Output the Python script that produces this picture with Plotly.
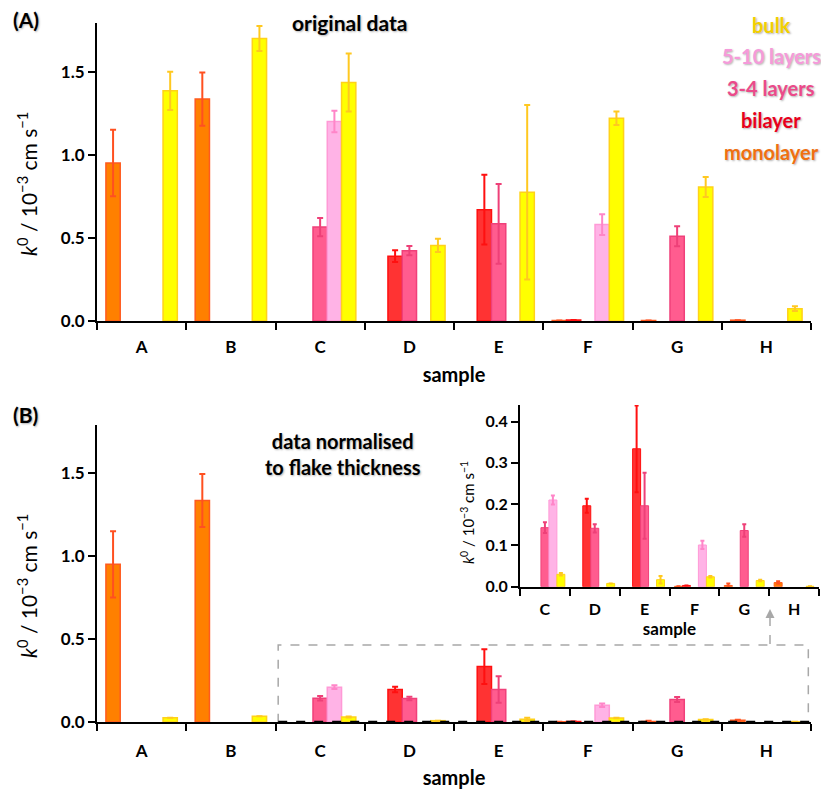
import plotly.graph_objects as go

categories = ["A", "B", "C", "D", "E", "F", "G", "H"]
series_names = ["monolayer", "bilayer", "3-4 layers", "5-10 layers", "bulk"]

# Panel A: original data (k0 / 1e-3 cm s-1)
orig_mono = [0.95, 1.335, None, None, None, 0.003, 0.003, 0.005]
orig_mono_err = [0.20, 0.16, None, None, None, None, None, None]
orig_bi = [None, None, None, 0.39, 0.67, 0.006, None, None]
orig_bi_err = [None, None, None, 0.035, 0.21, None, None, None]
orig_34 = [None, None, 0.565, 0.423, 0.585, None, 0.51, None]
orig_34_err = [None, None, 0.055, 0.028, 0.24, None, 0.06, None]
orig_510 = [None, None, 1.20, None, None, 0.58, None, None]
orig_510_err = [None, None, 0.065, None, None, 0.062, None, None]
orig_bulk = [1.385, 1.70, 1.435, 0.455, 0.775, 1.22, 0.806, 0.074]
orig_bulk_err = [0.115, 0.075, 0.175, 0.04, 0.525, 0.04, 0.06, 0.014]

# Panel B: data normalised to flake thickness
norm_mono = [0.95, 1.335, None, None, None, 0.001, 0.003, 0.010]
norm_mono_err = [0.20, 0.16, None, None, None, None, 0.005, 0.003]
norm_bi = [None, None, None, 0.196, 0.334, 0.003, None, None]
norm_bi_err = [None, None, None, 0.017, 0.105, None, None, None]
norm_34 = [None, None, 0.143, 0.1415, 0.196, None, 0.136, None]
norm_34_err = [None, None, 0.013, 0.010, 0.080, None, 0.015, None]
norm_510 = [None, None, 0.21, None, None, 0.101, None, None]
norm_510_err = [None, None, 0.011, None, None, 0.010, None, None]
norm_bulk = [0.026, 0.034, 0.030, 0.008, 0.017, 0.024, 0.015, 0.001]
norm_bulk_err = [None, None, 0.003, None, 0.009, 0.002, 0.002, None]

fill_colors = ["#FF8000", "#FF3333", "#FF5C8F", "#FFB3E6", "#FFFF00"]
line_colors = ["#FF5A1E", "#FF1010", "#F0407A", "#FF9AD6", "#FFD21A"]
err_colors = ["#FF5020", "#FF1010", "#EE4078", "#FF85C8", "#FFC820"]
legend_colors = ["#F07010", "#E8001C", "#EB4A8A", "#F59ADA", "#F2CF00"]

orig = [(orig_mono, orig_mono_err), (orig_bi, orig_bi_err), (orig_34, orig_34_err),
        (orig_510, orig_510_err), (orig_bulk, orig_bulk_err)]
norm = [(norm_mono, norm_mono_err), (norm_bi, norm_bi_err), (norm_34, norm_34_err),
        (norm_510, norm_510_err), (norm_bulk, norm_bulk_err)]

FONT = "Lato"
SHADOW = "1px 1px 2px rgba(0,0,0,0.30)"

fig = go.Figure()

def add_bars(data, cats, xa, ya, cw, lw):
    for i, (vals, errs) in enumerate(data):
        fig.add_trace(go.Bar(
            x=cats, y=vals, name=series_names[i], xaxis=xa, yaxis=ya,
            marker=dict(color=fill_colors[i], line=dict(color=line_colors[i], width=lw)),
            error_y=dict(type="data", array=errs, visible=True, color=err_colors[i],
                         thickness=2, width=cw),
            showlegend=False,
        ))

add_bars(orig, categories, "x", "y", 3, 1.5)
add_bars(norm, categories, "x2", "y2", 3, 1.5)
inset_idx = slice(2, 8)
add_bars([(v[inset_idx], e[inset_idx]) for v, e in norm], categories[inset_idx], "x3", "y3", 2, 1)

W, H = 821, 789
def px_x(p):
    return p / W
def px_y(p):
    return 1 - p / H

tickfont = dict(family=FONT, size=17, color="black", weight="bold")
ytitle = "<i>k</i><sup>0</sup> / 10<sup>\u22123</sup> cm s<sup>\u22121</sup>"

def xaxis_common(domain, anchor, tf, ttf, standoff, rng, tls):
    return dict(domain=domain, anchor=anchor, type="category",
                range=rng, showline=True, linecolor="black", linewidth=2,
                ticks="outside", tickson="boundaries", ticklen=7, tickwidth=2,
                tickcolor="black", tickfont=tf, showgrid=False, zeroline=False,
                automargin=False, ticklabelstandoff=tls,
                title=dict(text="sample", font=ttf, standoff=standoff))

def yaxis_common(domain, anchor, rng, dtick, fmt, tf):
    return dict(domain=domain, anchor=anchor, range=rng, dtick=dtick, tickformat=fmt,
                showline=True, linecolor="black", linewidth=2, ticks="outside",
                ticklen=7, tickwidth=2, tickcolor="black", tickfont=tf,
                showgrid=False, zeroline=False, automargin=False)

sample_font = dict(family=FONT, size=20, color="black", weight="bold")
xA = xaxis_common([px_x(97), px_x(811)], "y", tickfont, sample_font, 12, [-0.5, 7.5], 10)
xB = xaxis_common([px_x(97), px_x(811)], "y2", tickfont, sample_font, 12, [-0.5, 7.5], 13)
xC = xaxis_common([px_x(520), px_x(819)], "y3", dict(family=FONT, size=16, color="black", weight="bold"),
                  dict(family=FONT, size=17, color="black", weight="bold"), 6, [-0.5, 5.5], 7)

yA = yaxis_common([px_y(321), px_y(23)], "x", [0, 1.793], 0.5, ".1f", tickfont)
yB = yaxis_common([px_y(722), px_y(425)], "x2", [0, 1.79], 0.5, ".1f", tickfont)
yC = yaxis_common([px_y(586.7), px_y(405)], "x3", [0, 0.44], 0.1, ".1f",
                  dict(family=FONT, size=16, color="black", weight="bold"))

fig.update_layout(
    width=W, height=H, autosize=False,
    margin=dict(l=0, r=0, t=0, b=0),
    plot_bgcolor="white", paper_bgcolor="white",
    barmode="group", bargap=0.2, bargroupgap=0,
    xaxis=xA, yaxis=yA, xaxis2=xB, yaxis2=yB, xaxis3=xC, yaxis3=yC,
    showlegend=False,
)

annotations = []
def label(text, x, y, size, color="black", bold=True, align="center", angle=0, shadow=SHADOW):
    annotations.append(dict(
        text=text, x=px_x(x), y=px_y(y), xref="paper", yref="paper",
        xanchor="center", yanchor="middle", showarrow=False, align=align, textangle=angle,
        font=dict(family=FONT, size=size, color=color, weight="bold" if bold else "normal",
                  shadow=shadow)))

label("(A)", 26, 20, 21)
label("original data", 349, 22, 21)
label("(B)", 26, 414, 21)
label("data normalised<br>to flake thickness", 343, 454, 20)
legend_y = [25, 56, 88, 120, 152]
for name, col, yy in zip(series_names[::-1], legend_colors[::-1], legend_y):
    label(name, 771, yy, 20, color=col)

# y-axis titles
label(ytitle, 27, 184, 21, bold=False, angle=-90, shadow="none")
label(ytitle, 27, 586, 21, bold=False, angle=-90, shadow="none")
label(ytitle, 467, 513, 15, bold=False, angle=-90, shadow="none")

# arrow head pointing to the inset
annotations.append(dict(
    x=px_x(770), y=px_y(609), xref="paper", yref="paper", ax=0, ay=10,
    axref="pixel", ayref="pixel", showarrow=True, arrowhead=2, arrowsize=1.2,
    arrowwidth=1.5, arrowcolor="#A8A8A8", text=""))
fig.update_layout(annotations=annotations)

# dashed zoom box in panel B (axis coordinates) and connector to inset
fig.add_shape(type="rect", xref="x2", yref="y2", x0=1.53, x1=7.47, y0=0, y1=0.464,
              line=dict(color="#A8A8A8", width=1.5, dash="dash"))
fig.add_shape(type="line", xref="x2", yref="y2", x0=1.53, x1=7.5, y0=0, y1=0,
              line=dict(color="black", width=2.5, dash="dash"))
fig.add_shape(type="line", xref="paper", yref="paper",
              x0=px_x(770), x1=px_x(770), y0=px_y(644), y1=px_y(616),
              line=dict(color="#A8A8A8", width=1.5, dash="dash"))

fig.write_html("out.html", config={"displayModeBar": False},
               post_script="document.body.style.margin='0';")
